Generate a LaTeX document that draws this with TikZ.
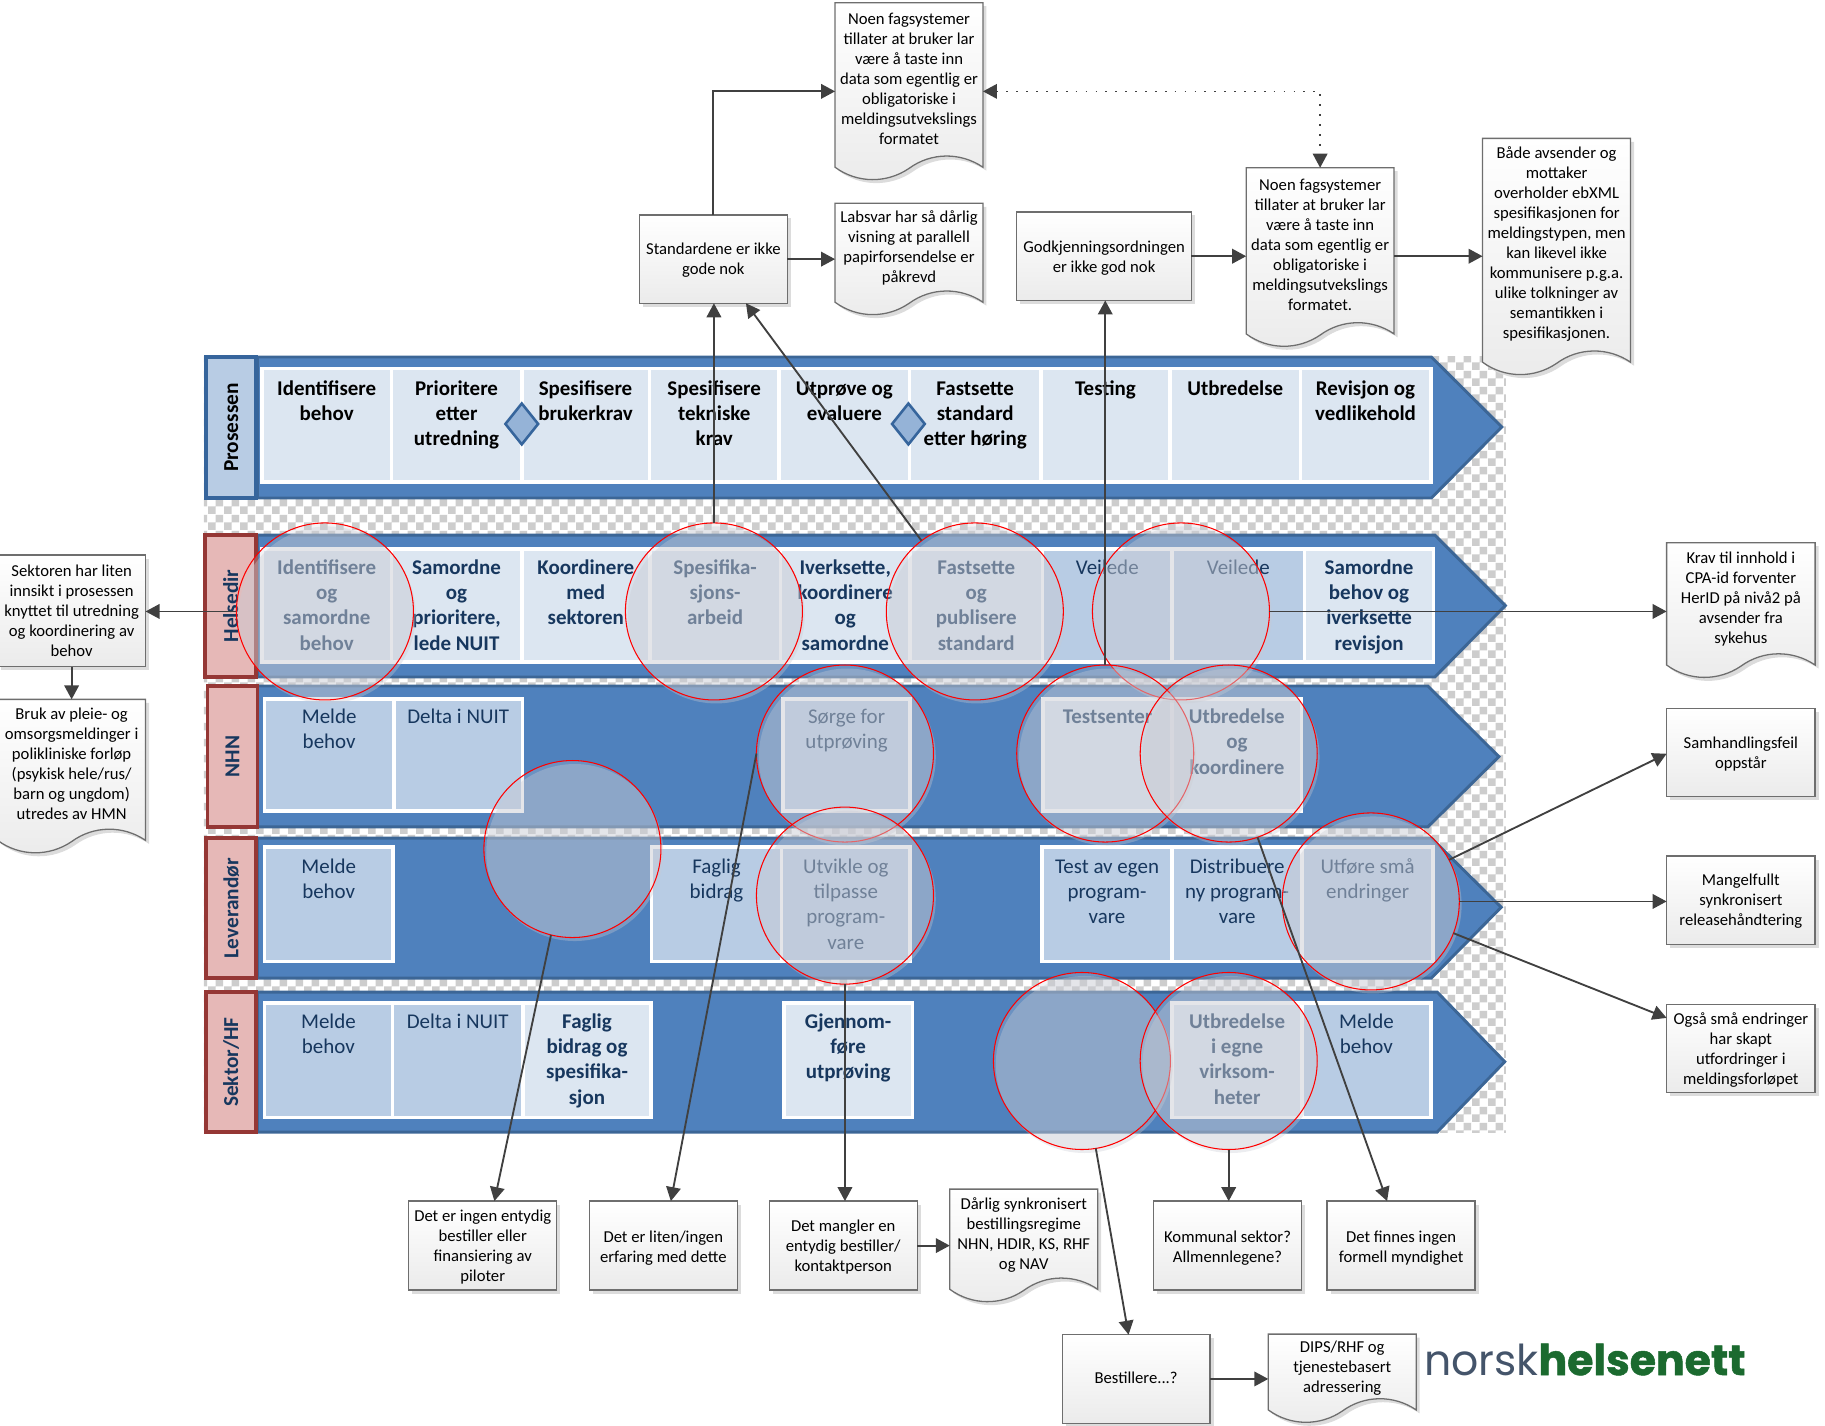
\documentclass[tikz,border=0pt]{standalone}
\usepackage{fontspec}
\setmainfont{Carlito}
\newfontfamily\logofont{Poppins}
\newfontfamily\logoheavy[FakeBold=1.2]{Poppins Bold}
\usetikzlibrary{arrows.meta,shapes.geometric,shadows,patterns,calc}
\definecolor{lanefill}{HTML}{4F81BD}
\definecolor{laneline}{HTML}{3C6696}
\definecolor{headblue}{HTML}{B8CCE4}
\definecolor{headblueline}{HTML}{36659C}
\definecolor{headpink}{HTML}{E6B8B7}
\definecolor{headpinkline}{HTML}{953735}
\definecolor{celllight}{HTML}{DCE6F1}
\definecolor{cellmid}{HTML}{B8CCE4}
\definecolor{navy}{HTML}{17375E}
\definecolor{diamondfill}{HTML}{95B3D7}
\definecolor{conn}{HTML}{404040}
\definecolor{boxline}{HTML}{6E6E6E}
\definecolor{boxbot}{HTML}{EBEBEB}
\definecolor{boxshadow}{HTML}{DCDCDC}
\definecolor{circfill}{HTML}{CCCED6}
\definecolor{circshadow}{HTML}{C9CBD3}
\definecolor{logogrey}{HTML}{44546A}
\definecolor{logogreen}{HTML}{1B6A2F}
\definecolor{chk}{HTML}{CDCDCD}
\pgfdeclarepatternformonly{chkpat}{\pgfqpoint{0pt}{0pt}}{\pgfqpoint{13.74pt}{13.74pt}}{\pgfqpoint{13.74pt}{13.74pt}}{%
  \pgfpathrectangle{\pgfqpoint{0pt}{0pt}}{\pgfqpoint{6.87pt}{6.87pt}}%
  \pgfpathrectangle{\pgfqpoint{6.87pt}{6.87pt}}{\pgfqpoint{6.87pt}{6.87pt}}%
  \pgfusepath{fill}}
\tikzset{
  lane/.style={fill=lanefill,draw=laneline,line width=2.5pt,line join=miter},
  headP/.style={rectangle,fill=headblue,draw=headblueline,line width=3pt,inner sep=0,outer sep=0,rotate=90,text=black,font=\fontsize{18.3}{20}\selectfont\bfseries},
  headR/.style={rectangle,fill=headpink,draw=headpinkline,line width=3pt,inner sep=0,outer sep=0,rotate=90,text=navy,font=\fontsize{18.3}{20}\selectfont\bfseries},
  cellbase/.style={rectangle,draw=white,line width=3pt,inner sep=0,outer sep=0},
  cellP/.style={cellbase,fill=celllight,text=black,font=\fontsize{18}{21.7}\selectfont\bfseries},
  cellL/.style={cellbase,fill=celllight,text=navy,font=\fontsize{18}{21.7}\selectfont\bfseries},
  cellM/.style={cellbase,fill=cellmid,text=navy,font=\fontsize{18}{21.7}\selectfont},
  gate/.style={diamond,aspect=0.8,fill=diamondfill,draw=headblueline,line width=2.2pt,minimum width=29pt,minimum height=36pt,inner sep=0},
  spot/.style={circle,minimum size=152pt,inner sep=0,outer sep=0,fill=circfill,fill opacity=.23,draw=red,draw opacity=1,line width=.9pt,
    drop shadow={fill=circshadow,opacity=.35,shadow xshift=2pt,shadow yshift=-3pt}},
  link/.style={draw=conn,line width=1.6pt,-{Triangle[length=12pt,width=12.5pt]}},
  boxtext/.style={align=center,text=black,font=\fontsize{14.3}{17.17}\selectfont,inner sep=0,outer sep=0},
  rectbox/.style={boxtext,rectangle,draw=boxline,line width=1.1pt,top color=white,bottom color=boxbot,
    drop shadow={fill=boxshadow,opacity=1,shadow xshift=3pt,shadow yshift=-3pt}},
  docshape/.style={draw=boxline,line width=1.1pt,top color=white,bottom color=boxbot},
}
\newcommand\baseoff{23}
\newcommand\lanebody[5]{% top, bottom, shoulder, tipx, tipy
  \draw[lane] (221,#1) -- (#3,#1) -- (#4,#5) -- (#3,#2) -- (221,#2) -- cycle;}
\newcommand\lanecell[7]{% name,x0,y0,x1,y1,style,text
  \pgfmathsetmacro\cw{#4-#2}\pgfmathsetmacro\ch{#5-#3}%
  \pgfmathsetmacro\cx{(#2+#4)/2}\pgfmathsetmacro\cy{(#3+#5)/2}%
  \node[#6,minimum width=\cw pt,minimum height=\ch pt] (#1) at (\cx,\cy)
    {\parbox[c][\ch pt][t]{\cw pt}{\centering\rule{0pt}{\baseoff pt}#7}};}
\newcommand\rectnote[7][1]{% [text shift],name,x0,y0,x1,y1,text
  \pgfmathsetmacro\cw{#5-#3}\pgfmathsetmacro\ch{#6-#4}%
  \pgfmathsetmacro\cx{(#3+#5)/2}\pgfmathsetmacro\cy{(#4+#6)/2}%
  \pgfmathsetmacro\rh{10.5+2*#1}%
  \node[rectbox,minimum width=\cw pt,minimum height=\ch pt] (#2) at (\cx,\cy) {\rule{0pt}{\rh pt}#7};}
\newcommand\docnote[7][0]{% [text shift],name,x0,y0,x1,y1(trough),text
  \pgfmathsetmacro\cw{#5-#3}\pgfmathsetmacro\ch{#6-#4-22}%
  \pgfmathsetmacro\cx{(#3+#5)/2}\pgfmathsetmacro\cy{#4+(#6-#4-22)/2+#1}%
  \pgfmathsetmacro\ya{#6-11}\pgfmathsetmacro\yb{#6-24}\pgfmathsetmacro\yc{#6-10}\pgfmathsetmacro\yd{#6+3}%
  \pgfmathsetmacro\xa{#3+.85*\cw}\pgfmathsetmacro\xb{#3+.65*\cw}\pgfmathsetmacro\xc{#3+.5*\cw}%
  \pgfmathsetmacro\xd{#3+.35*\cw}\pgfmathsetmacro\xe{#3+.15*\cw}%
  \fill[boxshadow,shift={(3,3)}] (#3,#4) -- (#5,#4) -- (#5,\ya) .. controls (\xa,\yb) and (\xb,\yb) .. (\xc,\yc)
     .. controls (\xd,\yd) and (\xe,\yd) .. (#3,\ya) -- cycle;
  \path[docshape] (#3,#4) -- (#5,#4) -- (#5,\ya) .. controls (\xa,\yb) and (\xb,\yb) .. (\xc,\yc)
     .. controls (\xd,\yd) and (\xe,\yd) .. (#3,\ya) -- cycle;
  \node[boxtext,minimum width=\cw pt,minimum height=\ch pt] (#2) at (\cx,\cy) {#7};}
\begin{document}
\begin{tikzpicture}[x=1pt,y=-1pt]
\useasboundingbox (0,0) rectangle (1567,1223.6);
% chequered backdrop
\fill[white] (175,306) rectangle (1293,972);
\fill[pattern=chkpat,pattern color=chk] (175,306) rectangle (1293,972);
% lanes
\lanebody{306.5}{427.6}{1229}{1289.5}{366.6}
\lanebody{459.4}{581.3}{1232}{1292.5}{520}
\lanebody{589}{710}{1226}{1287}{649.7}
\lanebody{719.6}{839.8}{1229}{1289}{779}
\lanebody{851.8}{972}{1234}{1292}{911.6}
% lane headers
\node[headP,minimum width=121pt,minimum height=43pt] (hP) at (198.5,367) {Prosessen};
\node[headR,minimum width=121.9pt,minimum height=44pt] (hH) at (198,520.3) {Helsedir};
\node[headR,minimum width=121pt,minimum height=43pt] (hN) at (199.5,649.5) {NHN};
\node[headR,minimum width=120.2pt,minimum height=43pt] (hL) at (198.5,779.7) {Leverandør};
\node[headR,minimum width=120.2pt,minimum height=43pt] (hS) at (198.5,911.9) {Sektor/HF};
% Prosessen row
\lanecell{p1}{225}{316.5}{336}{414}{cellP}{Identifisere\\behov}
\lanecell{p2}{336}{316.5}{448}{414}{cellP}{Prioritere\\etter\\utredning}
\lanecell{p3}{448}{316.5}{557.5}{414}{cellP}{Spesifisere\\brukerkrav}
\lanecell{p4}{557.5}{316.5}{669}{414}{cellP}{Spesifisere\\tekniske\\krav}
\lanecell{p5}{669}{316.5}{781}{414}{cellP}{Utprøve og\\evaluere}
\lanecell{p6}{781}{316.5}{893.7}{414}{cellP}{Fastsette\\standard\\etter høring}
\lanecell{p7}{893.7}{316.5}{1004.7}{414}{cellP}{Testing}
\lanecell{p8}{1004.7}{316.5}{1116.5}{414}{cellP}{Utbredelse}
\lanecell{p9}{1116.5}{316.5}{1228.5}{414}{cellP}{Revisjon og\\vedlikehold}
% Helsedir row
\renewcommand\baseoff{22}
\lanecell{h1}{225}{471.2}{336}{568.5}{cellL}{Identifisere\\og\\samordne\\behov}
\lanecell{h2}{336}{471.2}{448}{568.5}{cellL}{Samordne\\og\\prioritere,\\lede NUIT}
\lanecell{h3}{448}{471.2}{558}{568.5}{cellL}{Koordinere\\med\\sektoren}
\lanecell{h4}{558}{471.2}{670}{568.5}{cellL}{Spesifika-\\sjons-\\arbeid}
\lanecell{h5}{670}{471.2}{781.5}{568.5}{cellL}{Iverksette,\\koordinere\\og\\samordne}
\lanecell{h6}{781.5}{471.2}{895}{568.5}{cellL}{Fastsette\\og\\publisere\\standard}
\lanecell{h7}{895}{471.2}{1006.5}{568.5}{cellM}{Veilede}
\lanecell{h8}{1006.5}{471.2}{1120}{568.5}{cellM}{Veilede}
\lanecell{h9}{1120}{471.2}{1231}{568.5}{cellL}{Samordne\\behov og\\iverksette\\revisjon}
% NHN row
\renewcommand\baseoff{21.3}
\lanecell{n1}{227}{600}{338.3}{696.5}{cellM}{Melde\\behov}
\lanecell{n2}{338.3}{600}{448.5}{696.5}{cellM}{Delta i NUIT}
\lanecell{n3}{672.3}{600}{781.5}{696.5}{cellM}{Sørge for\\utprøving}
\lanecell{n4}{895.5}{600}{1006.5}{696.5}{cellL}{Testsenter}
\lanecell{n5}{1006.5}{600}{1117.5}{696.5}{cellL}{Utbredelse\\og\\koordinere}
% Leverandor row
\renewcommand\baseoff{22.7}
\lanecell{l1}{227}{727.1}{337.5}{825.4}{cellM}{Melde\\behov}
\lanecell{l2}{559.5}{727.1}{671}{825.4}{cellM}{Faglig\\bidrag}
\lanecell{l3}{671}{727.1}{781.5}{825.4}{cellM}{Utvikle og\\tilpasse\\program-\\vare}
\lanecell{l4}{894.5}{727.1}{1006.5}{825.4}{cellM}{Test av egen\\program-\\vare}
\lanecell{l5}{1006.5}{727.1}{1118}{825.4}{cellM}{Distribuere\\ny program-\\vare}
\lanecell{l6}{1118}{727.1}{1230.5}{825.4}{cellM}{Utføre små\\endringer}
% Sektor row
\renewcommand\baseoff{22}
\lanecell{s1}{227}{861}{337}{959.4}{cellM}{Melde\\behov}
\lanecell{s2}{337}{861}{449}{959.4}{cellM}{Delta i NUIT}
\lanecell{s3}{449}{861}{559}{959.4}{cellL}{Faglig\\bidrag og\\spesifika-\\sjon}
\lanecell{s4}{673}{861}{783.5}{959.4}{cellL}{Gjennom-\\føre\\utprøving}
\lanecell{s5}{1006.5}{861}{1118}{959.4}{cellL}{Utbredelse\\i egne\\virksom-\\heter}
\lanecell{s6}{1118}{861}{1228.5}{959.4}{cellM}{Melde\\behov}
% decision gates
\node[gate] (g1) at (448,364) {};
\node[gate] (g2) at (780,364) {};
% highlight circles
\node[spot] (cA) at (279,525) {};
\node[spot] (cB) at (613,525) {};
\node[spot] (cC) at (837,525) {};
\node[spot] (cD) at (1014,525) {};
\node[spot] (cE) at (725.5,647) {};
\node[spot] (cF) at (949,647) {};
\node[spot] (cG) at (1055,647) {};
\node[spot] (cH) at (491.5,729) {};
\node[spot] (cI) at (725.5,769) {};
\node[spot] (cJ) at (1177,774) {};
\node[spot] (cK) at (929,911) {};
\node[spot] (cL) at (1055,911) {};
% notes
\begin{scope}[xshift=-1pt]
\docnote{nA}{718}{2.3}{845}{154.6}{Noen fagsystemer\\tillater at bruker lar\\være å taste inn\\data som egentlig er\\obligatoriske i\\meldingsutvekslings\\formatet}
\docnote[1]{nB}{718}{174.6}{845}{270.5}{Labsvar har så dårlig\\visning at parallell\\papirforsendelse er\\påkrevd}
\rectnote[1]{bStd}{550}{184.6}{677}{260.4}{Standardene er ikke\\gode nok}
\rectnote[1]{bGod}{874}{182}{1024}{258}{Godkjenningsordningen\\er ikke god nok}
\docnote{nC}{1071}{144}{1198}{297.7}{Noen fagsystemer\\tillater at bruker lar\\være å taste inn\\data som egentlig er\\obligatoriske i\\meldingsutvekslings\\formatet.}
\docnote[0.5]{nD}{1274}{118.8}{1401}{322}{Både avsender og\\mottaker\\overholder ebXML\\spesifikasjonen for\\meldingstypen, men\\kan likevel ikke\\kommunisere p.g.a.\\ulike tolkninger av\\semantikken i\\spesifikasjonen.}
\rectnote[0]{bSek}{-1}{476.6}{126}{572.5}{Sektoren har liten\\innsikt i prosessen\\knyttet til utredning\\og koordinering av\\behov}
\docnote{nBruk}{-1}{600.5}{126}{732.6}{Bruk av pleie- og\\omsorgsmeldinger i\\polikliniske forløp\\(psykisk hele/rus/\\barn og ungdom)\\utredes av HMN}
\docnote[1]{nKrav}{1432}{466}{1559.5}{582}{Krav til innhold i\\CPA-id forventer\\HerID på nivå2 på\\avsender fra\\sykehus}
\rectnote{bSam}{1432}{608.4}{1559.5}{684}{Samhandlingsfeil\\oppstår}
\rectnote[0.5]{bMan}{1432}{735}{1559.5}{811}{Mangelfullt\\synkronisert\\releasehåndtering}
\rectnote{bOgs}{1432}{862.7}{1559.5}{938.3}{Også små endringer\\har skapt\\utfordringer i\\meldingsforløpet}
\rectnote{bIng}{352}{1031.3}{479}{1107.7}{Det er ingen entydig\\bestiller eller\\finansiering av\\piloter}
\rectnote[1.5]{bLit}{507}{1031.3}{634}{1107.7}{Det er liten/ingen\\erfaring med dette}
\rectnote{bMang}{661.5}{1031.3}{788.5}{1107.7}{Det mangler en\\entydig bestiller/\\kontaktperson}
\docnote[2]{nDar}{816.5}{1021}{943.5}{1118}{Dårlig synkronisert\\bestillingsregime\\NHN, HDIR, KS, RHF\\og NAV}
\rectnote[1.5]{bKom}{991.5}{1031.3}{1118.5}{1107.7}{Kommunal sektor?\\Allmennlegene?}
\rectnote[2]{bFin}{1140.5}{1031.3}{1267.5}{1107.7}{Det finnes ingen\\formell myndighet}
\rectnote[0]{bBes}{913}{1146}{1040}{1222}{\raisebox{1.5pt}{Bestillere...?}}
\docnote[2]{nDip}{1090}{1145.5}{1217}{1221.6}{DIPS/RHF og\\tjenestebasert\\adressering}
\end{scope}
% logo
\node[anchor=base west,inner sep=0] (logo) at (1222.5,1180.7)
  {\resizebox{276pt}{!}{\logofont\textcolor{logogrey}{norsk}\logoheavy\textcolor{logogreen}{helsenett}}};
% connectors
\draw[link] (bStd.north) |- ([yshift=-11pt]nA.west);
\draw[link] (bStd.east) -- (bStd.east -| nB.west);
\draw[link] (cB.north) -- (cB.north |- bStd.south);
\draw[link] (cC.127) -- ([xshift=28pt]bStd.south);
\draw[link] (cF.north) -- (cF.north |- bGod.south);
\draw[link] (bGod.east) -- (bGod.east -| nC.west);
\draw[link] (bGod.east -| nC.east) -- (bGod.east -| nD.west);
\draw[line width=1.4pt,draw=conn,dash pattern=on 1.5pt off 7pt,{Triangle[length=12pt,width=12.5pt]}-{Triangle[length=12pt,width=12.5pt]}] ([yshift=-11pt]nA.east) -| (nC.north);
\draw[link] (cA.west) -- (cA.west -| bSek.east);
\draw[link] (bSek.south) -- (nBruk.north);
\draw[link] (cD.east) -- (cD.east -| nKrav.west);
\draw[link] (cJ.28) -- ([yshift=-1pt]bSam.west);
\draw[link] (cJ.east) -- (cJ.east -| bMan.west);
\draw[link] (cJ.-21) -- ([yshift=26.5pt]bOgs.west);
\draw[link] (cH.256) -- ([xshift=10pt]bIng.north);
\draw[link] (cE.180) -- ([xshift=6.5pt]bLit.north);
\draw[link] (cI.south) -- (cI.south |- bMang.north);
\draw[link] (bMang.east) -- (bMang.east -| nDar.west);
\draw[link] (cL.south) -- (cL.south |- bKom.north);
\draw[link] (cG.289) -- ([xshift=-12pt]bFin.north);
\draw[link] (cK.279) -- ([xshift=-6.5pt]bBes.north);
\draw[link] (bBes.east) -- (bBes.east -| nDip.west);
\end{tikzpicture}
\end{document}
